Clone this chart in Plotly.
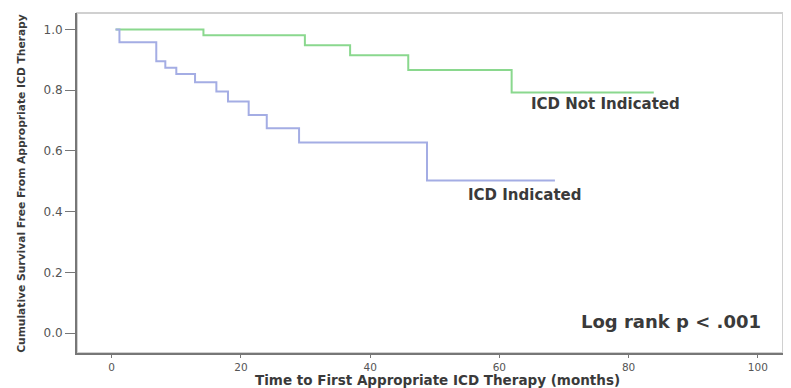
import plotly.graph_objects as go

# Kaplan-Meier step data (months, survival)
indicated_time = [0.6, 1.2, 6.9, 8.3, 10.0, 12.9, 16.2, 18.0, 21.2, 24.0, 29.0, 48.8, 68.6]
indicated_surv = [1.0, 0.958, 0.895, 0.874, 0.853, 0.826, 0.796, 0.763, 0.718, 0.675, 0.628, 0.503, 0.503]

not_indicated_time = [0.6, 14.2, 29.9, 36.9, 45.9, 61.9, 83.9]
not_indicated_surv = [1.0, 0.981, 0.948, 0.915, 0.866, 0.792, 0.792]

x_ticks = [0, 20, 40, 60, 80, 100]
y_ticks = [0.0, 0.2, 0.4, 0.6, 0.8, 1.0]
y_tick_labels = ["0.0", "0.2", "0.4", "0.6", "0.8", "1.0"]

FONT = "DejaVu Sans"
TXT = "#3a3a3a"

fig = go.Figure()
fig.add_trace(go.Scatter(x=not_indicated_time, y=not_indicated_surv, mode="lines",
                         line=dict(shape="hv", color="#8ad88e", width=2),
                         name="ICD Not Indicated", showlegend=False))
fig.add_trace(go.Scatter(x=indicated_time, y=indicated_surv, mode="lines",
                         line=dict(shape="hv", color="#a4ade4", width=2),
                         name="ICD Indicated", showlegend=False))

fig.add_annotation(x=76.5, y=0.755, text="<b>ICD Not Indicated</b>", showarrow=False,
                   font=dict(family=FONT, size=15, color=TXT))
fig.add_annotation(x=64, y=0.455, text="<b>ICD Indicated</b>", showarrow=False,
                   font=dict(family=FONT, size=15, color=TXT))
fig.add_annotation(x=86.5, y=0.04, text="<b>Log rank p &lt; .001</b>", showarrow=False,
                   font=dict(family=FONT, size=18, color=TXT))

# axis titles
fig.add_annotation(xref="paper", yref="paper", x=0.51, y=-0.078, yanchor="middle",
                   text="<b>Time to First Appropriate ICD Therapy (months)</b>",
                   showarrow=False, font=dict(family=FONT, size=13.5, color=TXT))
fig.add_annotation(xref="paper", yref="paper", x=-0.079, y=0.4985, textangle=-90,
                   xanchor="center", yanchor="middle",
                   text="<b>Cumulative Survival Free From Appropriate ICD Therapy</b>",
                   showarrow=False, font=dict(family=FONT, size=10.7, color=TXT))

# light top/right frame
fig.add_shape(type="rect", xref="paper", yref="paper", x0=0, y0=0, x1=1, y1=1,
              line=dict(color="#d0d0d0", width=2), layer="below")

# page body has an 8px margin, so the figure is offset by (8, 8)
fig.update_layout(
    width=783, height=380,
    margin=dict(l=69, r=8, t=5, b=35),
    paper_bgcolor="white", plot_bgcolor="white",
    font=dict(family=FONT, color=TXT),
    xaxis=dict(range=[-5.37, 103.9], tickvals=x_ticks, ticks="outside", ticklen=3,
               tickcolor="#777", showline=True, linecolor="#777", linewidth=2,
               showgrid=False, zeroline=False, automargin=False,
               tickfont=dict(size=10.5, color="#555")),
    yaxis=dict(range=[-0.065, 1.054], tickvals=y_ticks, ticktext=y_tick_labels,
               ticks="outside", ticklen=10, tickcolor="#777", showline=True,
               linecolor="#777", linewidth=2, showgrid=False, zeroline=False,
               automargin=False, tickfont=dict(size=12, color="#555")),
)

fig.write_html("out.html")
